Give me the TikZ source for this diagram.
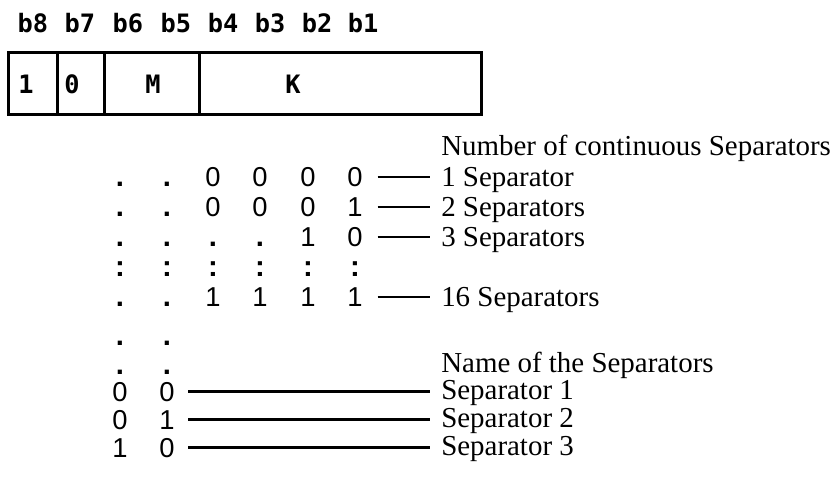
\documentclass[tikz,border=0pt]{standalone}
\usepackage{fontspec}
\newfontfamily\bitfont{DejaVu Sans Mono}
\newfontfamily\digfont{Liberation Sans}
\newfontfamily\descfont{Liberation Serif}

\tikzset{
  bitlabel/.style={font=\bitfont\bfseries\fontsize{19}{22}\selectfont, anchor=base, inner sep=0pt},
  digit/.style={font=\digfont\fontsize{20.5}{24}\selectfont, anchor=base, inner sep=0pt},
  dotmark/.style={digit, font=\digfont\bfseries\fontsize{22}{24}\selectfont},
  desc/.style={font=\descfont\fontsize{21.7}{24}\selectfont, anchor=base west, inner sep=0pt},
  shortdash/.style={line width=1.5pt, shorten <=11pt, shorten >=8pt},
  longdash/.style={line width=2pt, shorten <=10pt, shorten >=8pt}
}

\begin{document}
\begin{tikzpicture}[x=0.75pt, y=-0.75pt]
\useasboundingbox (0,0) rectangle (836,476);

% --- Bit labels ---
\node[bitlabel] (b8) at (33,32) {b8};
\node[bitlabel] (b7) at (80,32) {b7};
\node[bitlabel] (b6) at (128,32) {b6};
\node[bitlabel] (b5) at (176,32) {b5};
\node[bitlabel] (b4) at (223,32) {b4};
\node[bitlabel] (b3) at (270,32) {b3};
\node[bitlabel] (b2) at (317,32) {b2};
\node[bitlabel] (b1) at (363,32) {b1};

% --- Octet box ---
\draw[line width=2.25pt] (8,52) rectangle (481,114);
\draw[line width=2.25pt] (57,52) -- (57,114);
\draw[line width=2.25pt] (104,52) -- (104,114);
\draw[line width=2.25pt] (199,52) -- (199,114);

\node[bitlabel] (fone) at (26,93) {1};
\node[bitlabel] (fzero) at (72,93) {0};
\node[bitlabel] (fm) at (153,93) {M};
\node[bitlabel] (fk) at (293,93) {K};

% --- Number of continuous separators ---
\node[desc] (numhead) at (441,155) {Number of continuous Separators};

\node[dotmark] (ra1) at (120,186) {.};
\node[dotmark] (ra2) at (167,186) {.};
\node[digit] (ra3) at (213,186) {0};
\node[digit] (ra4) at (260,186) {0};
\node[digit] (ra5) at (308,186) {0};
\node[digit] (ra6) at (355,186) {0};
\node[desc] (rat) at (441,186) {1 Separator};
\draw[shortdash] (ra6.east) -- (ra6.east -| rat.west);

\node[dotmark] (rb1) at (120,216) {.};
\node[dotmark] (rb2) at (167,216) {.};
\node[digit] (rb3) at (213,216) {0};
\node[digit] (rb4) at (260,216) {0};
\node[digit] (rb5) at (308,216) {0};
\node[digit] (rb6) at (355,216) {1};
\node[desc] (rbt) at (441,216) {2 Separators};
\draw[shortdash] (rb6.east) -- (rb6.east -| rbt.west);

\node[dotmark] (rc1) at (120,246) {.};
\node[dotmark] (rc2) at (167,246) {.};
\node[dotmark] (rc3) at (213,246) {.};
\node[dotmark] (rc4) at (260,246) {.};
\node[digit] (rc5) at (308,246) {1};
\node[digit] (rc6) at (355,246) {0};
\node[desc] (rct) at (441,246) {3 Separators};
\draw[shortdash] (rc6.east) -- (rc6.east -| rct.west);

\node[dotmark] (rd1) at (120,276) {:};
\node[dotmark] (rd2) at (167,276) {:};
\node[dotmark] (rd3) at (213,276) {:};
\node[dotmark] (rd4) at (260,276) {:};
\node[dotmark] (rd5) at (308,276) {:};
\node[dotmark] (rd6) at (355,276) {:};

\node[dotmark] (re1) at (120,306) {.};
\node[dotmark] (re2) at (167,306) {.};
\node[digit] (re3) at (213,306) {1};
\node[digit] (re4) at (260,306) {1};
\node[digit] (re5) at (308,306) {1};
\node[digit] (re6) at (355,306) {1};
\node[desc] (ret) at (441,306) {16 Separators};
\draw[shortdash] (re6.east) -- (re6.east -| ret.west);

% --- Name of the separators ---
\node[dotmark] (sa1) at (120,345) {.};
\node[dotmark] (sa2) at (167,345) {.};
\node[dotmark] (sb1) at (120,374) {.};
\node[dotmark] (sb2) at (167,374) {.};
\node[desc] (namehead) at (441,372) {Name of the Separators};

\node[digit] (sc1) at (120,401) {0};
\node[digit] (sc2) at (167,401) {0};
\node[desc] (sct) at (441,399) {Separator 1};
\draw[longdash] (sc2.east) -- (sc2.east -| sct.west);

\node[digit] (sd1) at (120,429) {0};
\node[digit] (sd2) at (167,429) {1};
\node[desc] (sdt) at (441,427) {Separator 2};
\draw[longdash] (sd2.east) -- (sd2.east -| sdt.west);

\node[digit] (se1) at (120,457) {1};
\node[digit] (se2) at (167,457) {0};
\node[desc] (set) at (441,455) {Separator 3};
\draw[longdash] (se2.east) -- (se2.east -| set.west);

\end{tikzpicture}
\end{document}
